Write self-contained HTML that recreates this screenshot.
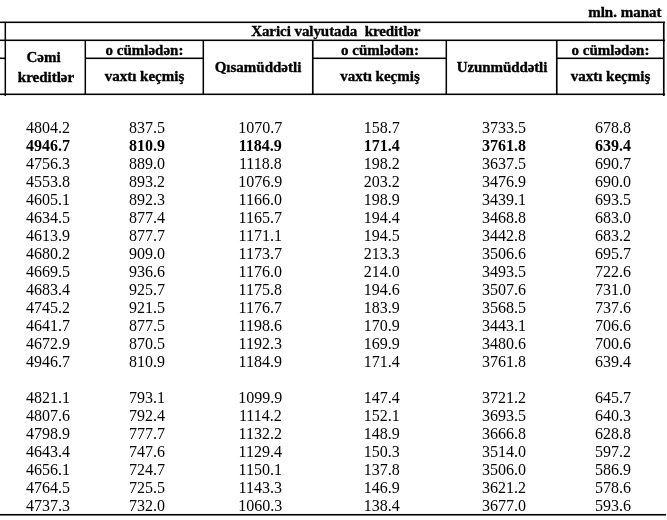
<!DOCTYPE html>
<html><head><meta charset="utf-8"><title>Xarici valyutada kreditlər</title>
<style>
html,body{margin:0;padding:0;background:#fff;}
body{width:667px;height:520px;position:relative;overflow:hidden;font-family:"Liberation Serif",serif;color:#000;}
.n{position:absolute;width:80px;text-align:center;font-size:16px;line-height:18px;height:18px;white-space:nowrap;}
.b{font-weight:bold;}
.h{position:absolute;-webkit-text-stroke:0.35px #000;font-weight:bold;font-size:15px;line-height:18px;text-align:center;white-space:pre;}
.hl{position:absolute;height:1px;background:#000;box-shadow:0 -1px 0 rgba(0,0,0,.47),0 1px 0 rgba(0,0,0,.08);}
.vl{position:absolute;width:1px;background:#000;box-shadow:-1px 0 0 rgba(0,0,0,.45),1px 0 0 rgba(0,0,0,.06);}
.hb{position:absolute;height:1px;background:#000;box-shadow:0 1px 0 rgba(0,0,0,.55),0 -1px 0 rgba(0,0,0,.05);}
.vr{position:absolute;width:1px;background:#000;box-shadow:1px 0 0 rgba(0,0,0,.6),-1px 0 0 rgba(0,0,0,.06);}
</style></head><body>
<div class="h" style="right:5.5px;top:3px;text-align:right">mln. manat</div>
<div class="hl" style="left:0;top:22px;width:665px"></div>
<div class="hl" style="left:0;top:40px;width:665px"></div>
<div class="hl" style="left:0;top:58px;width:5px"></div>
<div class="hl" style="left:85px;top:58px;width:118px"></div>
<div class="hl" style="left:313px;top:58px;width:133px"></div>
<div class="hl" style="left:556px;top:58px;width:108px"></div>
<div class="hl" style="left:0;top:94px;width:665px"></div>
<div class="hb" style="left:0;top:514px;width:666px"></div>
<div class="vl" style="left:5px;top:22px;height:74px"></div>
<div class="vl" style="left:85px;top:40px;height:55px"></div>
<div class="vl" style="left:203px;top:40px;height:55px"></div>
<div class="vr" style="left:312px;top:40px;height:55px"></div>
<div class="vl" style="left:446px;top:40px;height:55px"></div>
<div class="vr" style="left:556px;top:40px;height:55px"></div>
<div class="vr" style="left:663px;top:22px;height:74px"></div>
<div class="h" style="left:6.3px;width:659px;top:22px;letter-spacing:-0.06px">Xarici valyutada  kreditlər</div>
<div class="h" style="left:3.6px;width:80px;top:48px;line-height:19.6px">Cəmi</div>
<div class="h" style="left:6px;width:80px;top:67.6px;line-height:19.6px">kreditlər</div>
<div class="h" style="left:85px;width:119px;top:41px">o cümlədən:</div>
<div class="h" style="left:85px;width:119px;top:67px">vaxtı keçmiş</div>
<div class="h" style="left:204px;width:108px;top:58px">Qısamüddətli</div>
<div class="h" style="left:313px;width:134px;top:41px">o cümlədən:</div>
<div class="h" style="left:313px;width:134px;top:67px">vaxtı keçmiş</div>
<div class="h" style="left:446.5px;width:111px;top:58px;letter-spacing:-0.1px">Uzunmüddətli</div>
<div class="h" style="left:557px;width:107px;top:41px">o cümlədən:</div>
<div class="h" style="left:557px;width:107px;top:67px">vaxtı keçmiş</div>
<span class="n" style="left:8.0px;top:119.3px">4804.2</span><span class="n" style="left:107.0px;top:119.3px">837.5</span><span class="n" style="left:220.3px;top:119.3px">1070.7</span><span class="n" style="left:341.8px;top:119.3px">158.7</span><span class="n" style="left:464.0px;top:119.3px">3733.5</span><span class="n" style="left:573.0px;top:119.3px">678.8</span>
<span class="n b" style="left:8.0px;top:137.3px">4946.7</span><span class="n b" style="left:107.0px;top:137.3px">810.9</span><span class="n b" style="left:220.3px;top:137.3px">1184.9</span><span class="n b" style="left:341.8px;top:137.3px">171.4</span><span class="n b" style="left:464.0px;top:137.3px">3761.8</span><span class="n b" style="left:573.0px;top:137.3px">639.4</span>
<span class="n" style="left:8.0px;top:155.3px">4756.3</span><span class="n" style="left:107.0px;top:155.3px">889.0</span><span class="n" style="left:220.3px;top:155.3px">1118.8</span><span class="n" style="left:341.8px;top:155.3px">198.2</span><span class="n" style="left:464.0px;top:155.3px">3637.5</span><span class="n" style="left:573.0px;top:155.3px">690.7</span>
<span class="n" style="left:8.0px;top:173.3px">4553.8</span><span class="n" style="left:107.0px;top:173.3px">893.2</span><span class="n" style="left:220.3px;top:173.3px">1076.9</span><span class="n" style="left:341.8px;top:173.3px">203.2</span><span class="n" style="left:464.0px;top:173.3px">3476.9</span><span class="n" style="left:573.0px;top:173.3px">690.0</span>
<span class="n" style="left:8.0px;top:191.3px">4605.1</span><span class="n" style="left:107.0px;top:191.3px">892.3</span><span class="n" style="left:220.3px;top:191.3px">1166.0</span><span class="n" style="left:341.8px;top:191.3px">198.9</span><span class="n" style="left:464.0px;top:191.3px">3439.1</span><span class="n" style="left:573.0px;top:191.3px">693.5</span>
<span class="n" style="left:8.0px;top:209.3px">4634.5</span><span class="n" style="left:107.0px;top:209.3px">877.4</span><span class="n" style="left:220.3px;top:209.3px">1165.7</span><span class="n" style="left:341.8px;top:209.3px">194.4</span><span class="n" style="left:464.0px;top:209.3px">3468.8</span><span class="n" style="left:573.0px;top:209.3px">683.0</span>
<span class="n" style="left:8.0px;top:227.3px">4613.9</span><span class="n" style="left:107.0px;top:227.3px">877.7</span><span class="n" style="left:220.3px;top:227.3px">1171.1</span><span class="n" style="left:341.8px;top:227.3px">194.5</span><span class="n" style="left:464.0px;top:227.3px">3442.8</span><span class="n" style="left:573.0px;top:227.3px">683.2</span>
<span class="n" style="left:8.0px;top:245.3px">4680.2</span><span class="n" style="left:107.0px;top:245.3px">909.0</span><span class="n" style="left:220.3px;top:245.3px">1173.7</span><span class="n" style="left:341.8px;top:245.3px">213.3</span><span class="n" style="left:464.0px;top:245.3px">3506.6</span><span class="n" style="left:573.0px;top:245.3px">695.7</span>
<span class="n" style="left:8.0px;top:263.3px">4669.5</span><span class="n" style="left:107.0px;top:263.3px">936.6</span><span class="n" style="left:220.3px;top:263.3px">1176.0</span><span class="n" style="left:341.8px;top:263.3px">214.0</span><span class="n" style="left:464.0px;top:263.3px">3493.5</span><span class="n" style="left:573.0px;top:263.3px">722.6</span>
<span class="n" style="left:8.0px;top:281.3px">4683.4</span><span class="n" style="left:107.0px;top:281.3px">925.7</span><span class="n" style="left:220.3px;top:281.3px">1175.8</span><span class="n" style="left:341.8px;top:281.3px">194.6</span><span class="n" style="left:464.0px;top:281.3px">3507.6</span><span class="n" style="left:573.0px;top:281.3px">731.0</span>
<span class="n" style="left:8.0px;top:299.3px">4745.2</span><span class="n" style="left:107.0px;top:299.3px">921.5</span><span class="n" style="left:220.3px;top:299.3px">1176.7</span><span class="n" style="left:341.8px;top:299.3px">183.9</span><span class="n" style="left:464.0px;top:299.3px">3568.5</span><span class="n" style="left:573.0px;top:299.3px">737.6</span>
<span class="n" style="left:8.0px;top:317.3px">4641.7</span><span class="n" style="left:107.0px;top:317.3px">877.5</span><span class="n" style="left:220.3px;top:317.3px">1198.6</span><span class="n" style="left:341.8px;top:317.3px">170.9</span><span class="n" style="left:464.0px;top:317.3px">3443.1</span><span class="n" style="left:573.0px;top:317.3px">706.6</span>
<span class="n" style="left:8.0px;top:335.3px">4672.9</span><span class="n" style="left:107.0px;top:335.3px">870.5</span><span class="n" style="left:220.3px;top:335.3px">1192.3</span><span class="n" style="left:341.8px;top:335.3px">169.9</span><span class="n" style="left:464.0px;top:335.3px">3480.6</span><span class="n" style="left:573.0px;top:335.3px">700.6</span>
<span class="n" style="left:8.0px;top:353.3px">4946.7</span><span class="n" style="left:107.0px;top:353.3px">810.9</span><span class="n" style="left:220.3px;top:353.3px">1184.9</span><span class="n" style="left:341.8px;top:353.3px">171.4</span><span class="n" style="left:464.0px;top:353.3px">3761.8</span><span class="n" style="left:573.0px;top:353.3px">639.4</span>
<span class="n" style="left:8.0px;top:389.3px">4821.1</span><span class="n" style="left:107.0px;top:389.3px">793.1</span><span class="n" style="left:220.3px;top:389.3px">1099.9</span><span class="n" style="left:341.8px;top:389.3px">147.4</span><span class="n" style="left:464.0px;top:389.3px">3721.2</span><span class="n" style="left:573.0px;top:389.3px">645.7</span>
<span class="n" style="left:8.0px;top:407.3px">4807.6</span><span class="n" style="left:107.0px;top:407.3px">792.4</span><span class="n" style="left:220.3px;top:407.3px">1114.2</span><span class="n" style="left:341.8px;top:407.3px">152.1</span><span class="n" style="left:464.0px;top:407.3px">3693.5</span><span class="n" style="left:573.0px;top:407.3px">640.3</span>
<span class="n" style="left:8.0px;top:425.3px">4798.9</span><span class="n" style="left:107.0px;top:425.3px">777.7</span><span class="n" style="left:220.3px;top:425.3px">1132.2</span><span class="n" style="left:341.8px;top:425.3px">148.9</span><span class="n" style="left:464.0px;top:425.3px">3666.8</span><span class="n" style="left:573.0px;top:425.3px">628.8</span>
<span class="n" style="left:8.0px;top:443.3px">4643.4</span><span class="n" style="left:107.0px;top:443.3px">747.6</span><span class="n" style="left:220.3px;top:443.3px">1129.4</span><span class="n" style="left:341.8px;top:443.3px">150.3</span><span class="n" style="left:464.0px;top:443.3px">3514.0</span><span class="n" style="left:573.0px;top:443.3px">597.2</span>
<span class="n" style="left:8.0px;top:461.3px">4656.1</span><span class="n" style="left:107.0px;top:461.3px">724.7</span><span class="n" style="left:220.3px;top:461.3px">1150.1</span><span class="n" style="left:341.8px;top:461.3px">137.8</span><span class="n" style="left:464.0px;top:461.3px">3506.0</span><span class="n" style="left:573.0px;top:461.3px">586.9</span>
<span class="n" style="left:8.0px;top:479.3px">4764.5</span><span class="n" style="left:107.0px;top:479.3px">725.5</span><span class="n" style="left:220.3px;top:479.3px">1143.3</span><span class="n" style="left:341.8px;top:479.3px">146.9</span><span class="n" style="left:464.0px;top:479.3px">3621.2</span><span class="n" style="left:573.0px;top:479.3px">578.6</span>
<span class="n" style="left:8.0px;top:497.3px">4737.3</span><span class="n" style="left:107.0px;top:497.3px">732.0</span><span class="n" style="left:220.3px;top:497.3px">1060.3</span><span class="n" style="left:341.8px;top:497.3px">138.4</span><span class="n" style="left:464.0px;top:497.3px">3677.0</span><span class="n" style="left:573.0px;top:497.3px">593.6</span>
</body></html>
